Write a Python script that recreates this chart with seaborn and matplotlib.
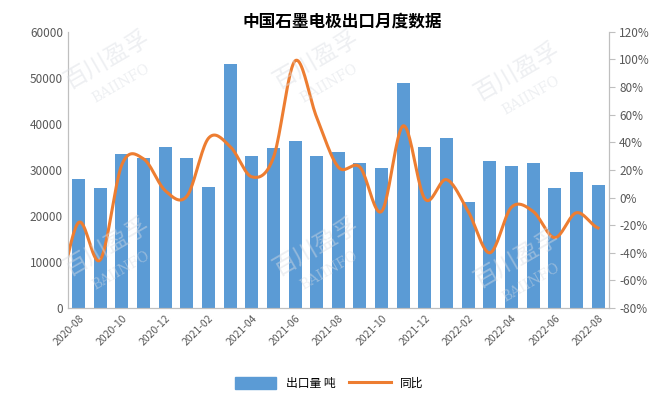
import numpy as np
import pandas as pd
import seaborn as sns
import matplotlib.pyplot as plt
from matplotlib.patches import Patch
from matplotlib.lines import Line2D

# monthly export data
months = ["2020-08", "2020-09", "2020-10", "2020-11", "2020-12",
          "2021-01", "2021-02", "2021-03", "2021-04", "2021-05", "2021-06",
          "2021-07", "2021-08", "2021-09", "2021-10", "2021-11", "2021-12",
          "2022-01", "2022-02", "2022-03", "2022-04", "2022-05", "2022-06",
          "2022-07", "2022-08"]
export_tons = [28000, 26000, 33500, 32500, 35000,
               32500, 26300, 53000, 33000, 34800, 36300,
               33000, 34000, 31500, 30500, 48800, 35000,
               37000, 23000, 32000, 30800, 31500, 26000,
               29500, 26800]
# yoy, first value belongs to 2020-07 (only its tail is visible)
yoy_prev = -70
yoy = [-18, -45, 24, 28, 5,
       1, 43, 37, 15, 29, 99,
       58, 22, 22, -10, 52, -1,
       13, -10, -40, -7, -10, -29,
       -11, -22]

plt.rcParams['font.family'] = ['Noto Sans CJK SC', 'DejaVu Sans']
plt.rcParams['axes.unicode_minus'] = False

df = pd.DataFrame({"month": months, "tons": export_tons})

fig = plt.figure(figsize=(6.72, 3.98), dpi=100)
ax = fig.add_axes([0.101, 0.226, 0.805, 0.694])

sns.barplot(data=df, x="month", y="tons", color="#5B9BD5", saturation=1,
            width=0.6, ax=ax)
ax.set_ylim(0, 60000)
ax.set_xlabel("")
ax.set_ylabel("")
ax.set_yticks(range(0, 60001, 10000))
ax.set_xticks(range(0, len(months), 2))
ax.set_xticklabels(months[::2], rotation=45, ha="right", rotation_mode="anchor")

# smooth line (catmull-rom like excel's smoothed line)
xs = np.arange(-1, len(months))
ys = np.array([yoy_prev] + yoy, dtype=float)
px = np.concatenate([[xs[0] - 1], xs, [xs[-1] + 1]])
py = np.concatenate([[ys[0]], ys, [ys[-1]]])
sx, sy = [], []
t = np.linspace(0, 1, 20, endpoint=False)
for i in range(1, len(px) - 2):
    p0, p1, p2, p3 = py[i - 1], py[i], py[i + 1], py[i + 2]
    seg = 0.5 * ((2 * p1) + (-p0 + p2) * t + (2 * p0 - 5 * p1 + 4 * p2 - p3) * t ** 2
                 + (-p0 + 3 * p1 - 3 * p2 + p3) * t ** 3)
    sx.extend(px[i] + t)
    sy.extend(seg)
sx.append(xs[-1])
sy.append(ys[-1])

ax2 = ax.twinx()
sns.lineplot(x=sx, y=sy, sort=False, color="#ED7D31", linewidth=2.2, ax=ax2)
ax2.set_ylim(-80, 120)
ax2.set_yticks(range(-80, 121, 20))
ax2.set_yticklabels([f"{v}%" for v in range(-80, 121, 20)])
ax.set_xlim(-0.5, len(months) - 0.5)

tick_col = "#595959"
for a in (ax, ax2):
    for s in a.spines.values():
        s.set_color("#BFBFBF")
    a.spines["top"].set_visible(False)
    a.tick_params(colors=tick_col, labelsize=8.5)
ax.tick_params(axis="y", length=0)
ax.tick_params(axis="x", length=0, labelsize=7.5)
ax2.tick_params(axis="y", length=4, color="#BFBFBF")

# watermarks
for (wx, wy) in [(0.16, 0.85), (0.47, 0.85), (0.77, 0.82), (0.16, 0.38), (0.47, 0.38), (0.77, 0.35)]:
    fig.text(wx, wy, "百川盈孚", fontsize=17, color="#D9DDE3", alpha=0.45,
             rotation=30, ha="center", va="center")
    fig.text(wx + 0.02, wy - 0.06, "BAIINFO", fontsize=10, color="#D9DDE3", alpha=0.45,
             rotation=30, ha="center", va="center", family="DejaVu Serif")

fig.text(0.51, 0.945, "中国石墨电极出口月度数据", fontsize=12, fontweight="bold",
         ha="center", va="center", color="black")

handles = [Patch(color="#5B9BD5", label="出口量 吨"),
           Line2D([0], [0], color="#ED7D31", lw=2.2, label="同比")]
fig.legend(handles=handles, loc="center", bbox_to_anchor=(0.49, 0.037), ncol=2,
           frameon=False, fontsize=8.5, handlelength=3.5, handleheight=1.2,
           columnspacing=1.2)

plt.savefig("out.png", dpi=100)
